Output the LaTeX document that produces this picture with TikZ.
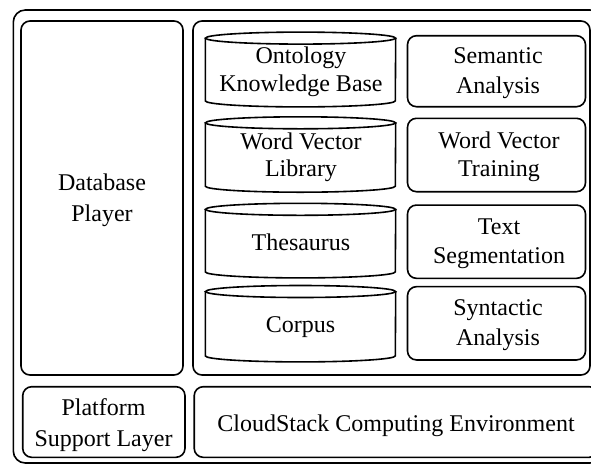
\documentclass[tikz,border=0pt]{standalone}
\usepackage{fontspec}
\setmainfont{Liberation Serif}
\newcommand{\fsz}{\fontsize{24}{29}\selectfont}
% two centred lines, baseline of the box = baseline of the first line
\newcommand{\twoline}[3][29]{\vtop{\baselineskip=#1pt\lineskiplimit=0pt\halign{\hfil##\hfil\cr #2\cr #3\cr}}}
\tikzset{
  box/.style={draw, line width=1.6pt, rounded corners=9pt, inner sep=0pt},
  txt/.style={inner sep=0pt, anchor=base, font=\fsz},
  cylbody/.style={draw=none, inner sep=0pt},
  cylline/.style={draw, line width=1.6pt}
}
\begin{document}
\begin{tikzpicture}[x=1pt,y=-1pt]
\clip (0,0) rectangle (591,464);
\fill[white] (0,0) rectangle (591,464);
% frames
\node[box, rounded corners=12pt, minimum width=588.7pt, minimum height=453pt] (outer) at (307.65,236.5) {};
\node[box, minimum width=162pt, minimum height=354pt] (db) at (102,198) {};
\node[box, minimum width=397pt, minimum height=354pt] (inner) at (391.5,198) {};
% right column
\node[box, minimum width=178pt, minimum height=71pt] (sem) at (496.5,71.2) {};
\node[box, minimum width=178pt, minimum height=73.4pt] (wvt) at (496.5,155) {};
\node[box, minimum width=178pt, minimum height=73.3pt] (seg) at (496.5,241.7) {};
\node[box, minimum width=178pt, minimum height=73.3pt] (syn) at (496.5,323.3) {};
% bottom row
\node[box, minimum width=162.3pt, minimum height=70.6pt] (plat) at (103.85,422) {};
\node[box, minimum width=404pt, minimum height=70.6pt] (cloud) at (396.2,422) {};
% cylinders (node = body between the centres of the two ellipses)
\node[cylbody, minimum width=190pt, minimum height=62.4pt] (c1) at (300.5,69.5) {};
\node[cylbody, minimum width=190pt, minimum height=63pt] (c2) at (300.5,154.5) {};
\node[cylbody, minimum width=190pt, minimum height=62.2pt] (c3) at (300.5,240.6) {};
\node[cylbody, minimum width=190pt, minimum height=64pt] (c4) at (300.5,323.7) {};
\foreach \c in {c1,c2,c3,c4}{
  \draw[cylline] (\c.north west) -- (\c.south west) arc[start angle=180,end angle=360,x radius=95pt,y radius=6pt] -- (\c.north east);
  \draw[cylline] (\c.north) ellipse[x radius=95pt,y radius=6pt];
}
% texts
\node[txt] (db-t) at (102,190) {\twoline[31.5]{Database}{Player}};
\node[txt] (sem-t) at (498,63.3) {\twoline[30]{Semantic}{Analysis}};
\node[txt] (wvt-t) at (499,148.3) {\twoline[28.4]{Word Vector}{Training}};
\node[txt] (seg-t) at (499,234) {\twoline[29.3]{Text}{Segmentation}};
\node[txt] (syn-t) at (498,315.7) {\twoline[29.3]{Syntactic}{Analysis}};
\node[txt] (plat-t) at (103.5,415.7) {\twoline[31]{Platform}{Support Layer}};
\node[txt] (cloud-t) at (396,431.7) {CloudStack Computing Environment};
\node[txt] (c1-t) at (301,63.3) {\twoline[28.4]{Ontology}{Knowledge Base}};
\node[txt] (c2-t) at (301,149.3) {\twoline[27.4]{Word Vector}{Library}};
\node[txt] (c3-t) at (301,250) {Thesaurus};
\node[txt] (c4-t) at (300.5,332.3) {Corpus};
\end{tikzpicture}
\end{document}
